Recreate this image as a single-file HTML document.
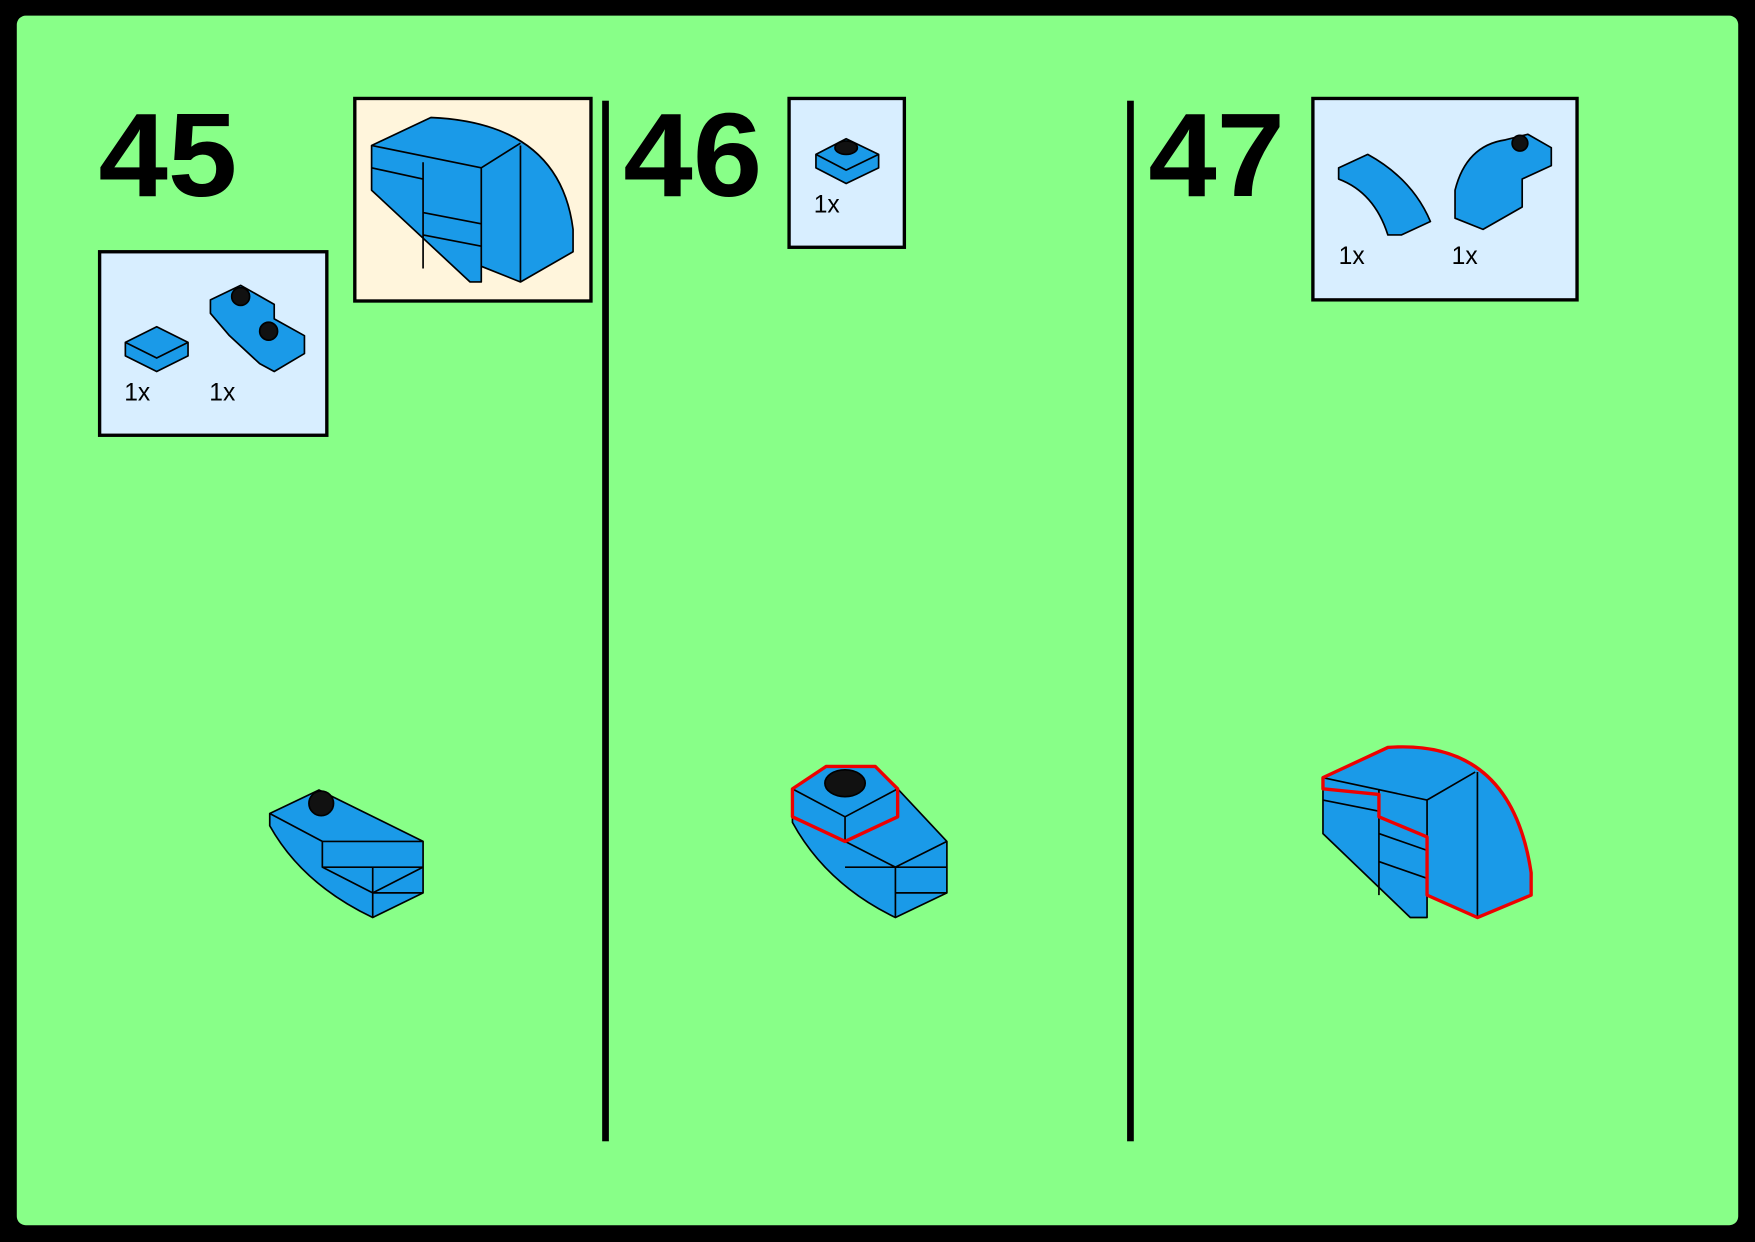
<!DOCTYPE html>
<html><head><meta charset="utf-8"><style>
html,body{margin:0;padding:0;background:#000;}
svg{display:block}
</style></head><body>
<svg width="1755" height="1242" viewBox="0 0 1568 1110" preserveAspectRatio="none" xmlns="http://www.w3.org/2000/svg">
<rect x="0" y="0" width="1568" height="1110" fill="#000"/>
<rect x="15" y="14" width="1538" height="1081" rx="8" fill="#88FF88"/>
<g font-family="Liberation Sans, sans-serif" font-weight="bold" font-size="106" fill="#000">
<text x="88" y="175" textLength="124" lengthAdjust="spacingAndGlyphs">45</text>
<text x="557" y="175" textLength="124" lengthAdjust="spacingAndGlyphs">46</text>
<text x="1026" y="175" textLength="122" lengthAdjust="spacingAndGlyphs">47</text>
</g>
<rect x="538" y="90" width="6" height="930" fill="#000"/>
<rect x="1007" y="90" width="6" height="930" fill="#000"/>
<g stroke="#000" stroke-width="3">
<rect x="89" y="225" width="203" height="164" fill="#D8EEFF"/>
<rect x="317" y="88" width="211" height="181" fill="#FFF5DC"/>
<rect x="705" y="88" width="103" height="133" fill="#D8EEFF"/>
<rect x="1173" y="88" width="236" height="180" fill="#D8EEFF"/>
</g>
<g font-family="Liberation Sans, sans-serif" font-size="22" fill="#000">
<text x="111" y="358">1x</text><text x="187" y="358">1x</text>
<text x="727" y="190">1x</text>
<text x="1196" y="236">1x</text><text x="1297" y="236">1x</text>
</g>
<g fill="#1A9AE8" stroke="#000" stroke-width="1.5" stroke-linejoin="round">
<polygon points="112,306 140,292 168,306 168,318 140,332 112,318"/>
<polyline fill="none" points="112,306 140,320 168,306 M140,320 140,332"/>
<polygon points="188,268 215,255 245,272 245,285 272,300 272,316 245,332 232,325 205,300 188,280"/>
<circle cx="215" cy="265" r="8" fill="#111"/><circle cx="240" cy="296" r="8" fill="#111"/>
<path d="M332,130 L385,105 Q500,110 512,205 L512,225 L465,252 L430,238 L430,252 L420,252 L332,170 Z"/>
<path fill="none" d="M332,130 L430,150 L465,128 M430,150 L430,238 M465,252 L465,130 M332,150 L378,160 M378,145 L378,240 M378,190 L430,200 M378,210 L430,220"/>
<polygon points="729,138 756,124 785,138 785,150 756,164 729,150"/>
<polyline fill="none" points="729,138 756,152 785,138 M756,152 756,164"/>
<ellipse cx="756" cy="132" rx="10" ry="6" fill="#111"/>
<path d="M1196,150 L1222,138 Q1262,160 1278,198 L1252,210 L1240,210 Q1228,172 1196,160 Z"/>
<path d="M1300,170 Q1310,130 1345,125 L1365,120 L1386,132 L1386,148 L1360,160 L1360,185 L1325,205 L1300,195 Z"/>
<circle cx="1358" cy="128" r="7" fill="#111"/>
<path d="M241,727 L285,706 L378,752 L378,798 L333,820 Q270,790 241,738 Z"/>
<path fill="none" d="M241,727 L288,752 L378,752 M288,752 L288,775 L333,798 L378,775 M333,775 L333,820 M288,775 L378,775 M333,798 L378,798"/>
<circle cx="287" cy="718" r="11" fill="#111"/>
<path d="M708,705 L738,685 L782,685 L802,705 L846,752 L846,798 L800,820 Q738,790 708,735 Z"/>
<path fill="none" d="M708,705 L755,730 L802,705 M755,730 L755,752 L800,775 L846,752 M800,775 L800,820 M755,775 L846,775 M800,798 L846,798"/>
<ellipse cx="755" cy="700" rx="18" ry="12" fill="#111"/>
<path fill="none" stroke="#E00" stroke-width="3" d="M708,705 L738,685 L782,685 L802,705 L802,730 L755,752 L708,730 Z"/>
<path d="M1182,695 L1240,668 Q1350,660 1368,780 L1368,800 L1320,820 L1275,800 L1275,820 L1260,820 L1182,745 Z"/>
<path fill="none" d="M1182,695 L1275,715 L1318,690 M1275,715 L1275,800 M1320,820 L1320,690 M1182,715 L1232,725 M1232,705 L1232,800 M1232,745 L1275,760 M1232,770 L1275,785"/>
<path fill="none" stroke="#E00" stroke-width="3" d="M1182,695 L1240,668 Q1350,660 1368,780 L1368,800 L1320,820 L1275,800 L1275,748 L1232,730 L1232,710 L1182,705 Z"/>
</g>
</svg>
</body></html>
